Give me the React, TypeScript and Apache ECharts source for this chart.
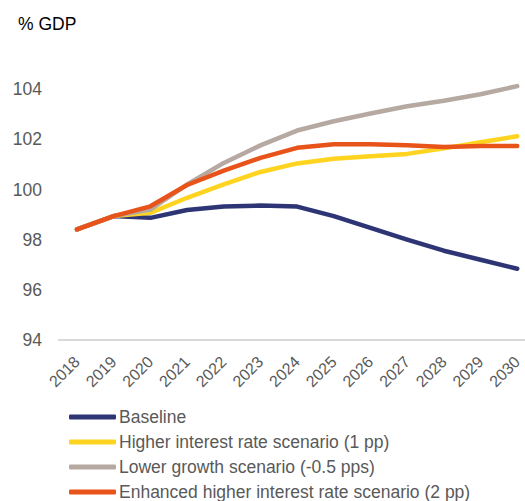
import React, { useEffect, useRef } from "react";
import * as echarts from "echarts";

const years = ["2018", "2019", "2020", "2021", "2022", "2023", "2024", "2025", "2026", "2027", "2028", "2029", "2030"];
const baseline = [98.41, 98.94, 98.87, 99.18, 99.32, 99.36, 99.32, 98.94, 98.47, 98.0, 97.56, 97.2, 96.84];
const higherRate = [98.41, 98.94, 99.07, 99.67, 100.2, 100.7, 101.04, 101.23, 101.33, 101.42, 101.64, 101.88, 102.12];
const lowerGrowth = [98.41, 98.94, 99.2, 100.2, 101.06, 101.76, 102.35, 102.72, 103.03, 103.32, 103.54, 103.8, 104.12];
const enhancedRate = [98.41, 98.94, 99.33, 100.18, 100.75, 101.26, 101.66, 101.8, 101.8, 101.76, 101.69, 101.73, 101.73];
const yTicks = { min: 94, max: 106, interval: 2 };

const seriesDefs = [
  { name: "Baseline", data: baseline, color: "#2E3575" },
  { name: "Higher interest rate scenario (1 pp)", data: higherRate, color: "#FFD420" },
  { name: "Lower growth scenario (-0.5 pps)", data: lowerGrowth, color: "#B6A9A2" },
  { name: "Enhanced higher interest rate scenario (2 pp)", data: enhancedRate, color: "#E8531A" },
];

export default function App() {
  const ref = useRef<HTMLDivElement>(null);
  useEffect(() => {
    if (!ref.current) return;
    const chart = echarts.init(ref.current, null, { renderer: "svg" });
    const font = "'Liberation Sans', Arial, sans-serif";
    chart.setOption({
      animation: false,
      textStyle: { fontFamily: font },
      title: {
        text: "% GDP",
        left: 18,
        top: 15,
        padding: 0,
        textStyle: { fontSize: 17.5, fontWeight: "normal", color: "#000", fontFamily: font },
      },
      grid: { left: 77, right: 7, top: 39, bottom: 161, containLabel: false },
      graphic: [
        {
          type: "line",
          shape: { x1: 58, y1: 340, x2: 525, y2: 340 },
          style: { stroke: "#D9D9D9", lineWidth: 2 },
          z: 0,
        },
      ],
      legend: {
        orient: "vertical",
        left: 69,
        top: 408,
        height: 120,
        padding: 0,
        icon: "roundRect",
        itemWidth: 47,
        itemHeight: 5,
        itemGap: 7,
        textStyle: { fontSize: 17.5, color: "#595959", fontFamily: font, padding: [0, 0, 0, -2] },
        data: seriesDefs.map((s) => s.name),
      },
      xAxis: {
        type: "category",
        data: years,
        boundaryGap: false,
        axisLine: { show: false },
        axisTick: { show: false },
        axisLabel: { rotate: 45, color: "#595959", fontSize: 16, margin: 19, interval: 0, fontFamily: font },
      },
      yAxis: {
        type: "value",
        min: yTicks.min,
        max: yTicks.max,
        interval: yTicks.interval,
        axisLine: { show: false },
        axisTick: { show: false },
        splitLine: { show: false },
        axisLabel: {
          color: "#595959",
          fontSize: 17.5,
          margin: 35,
          fontFamily: font,
          formatter: (v: number) => (v === yTicks.max ? "" : String(v)),
        },
      },
      series: seriesDefs.map((s, i) => ({
        name: s.name,
        type: "line",
        data: s.data,
        symbol: "none",
        clip: false,
        z: [1, 2, 3, 4][i],
        color: s.color,
        lineStyle: { color: s.color, width: 4.5, cap: "round", join: "round" },
      })),
    });
    return () => chart.dispose();
  }, []);
  return <div ref={ref} style={{ width: 525, height: 501, position: "absolute", left: 0, top: 0 }} />;
}
